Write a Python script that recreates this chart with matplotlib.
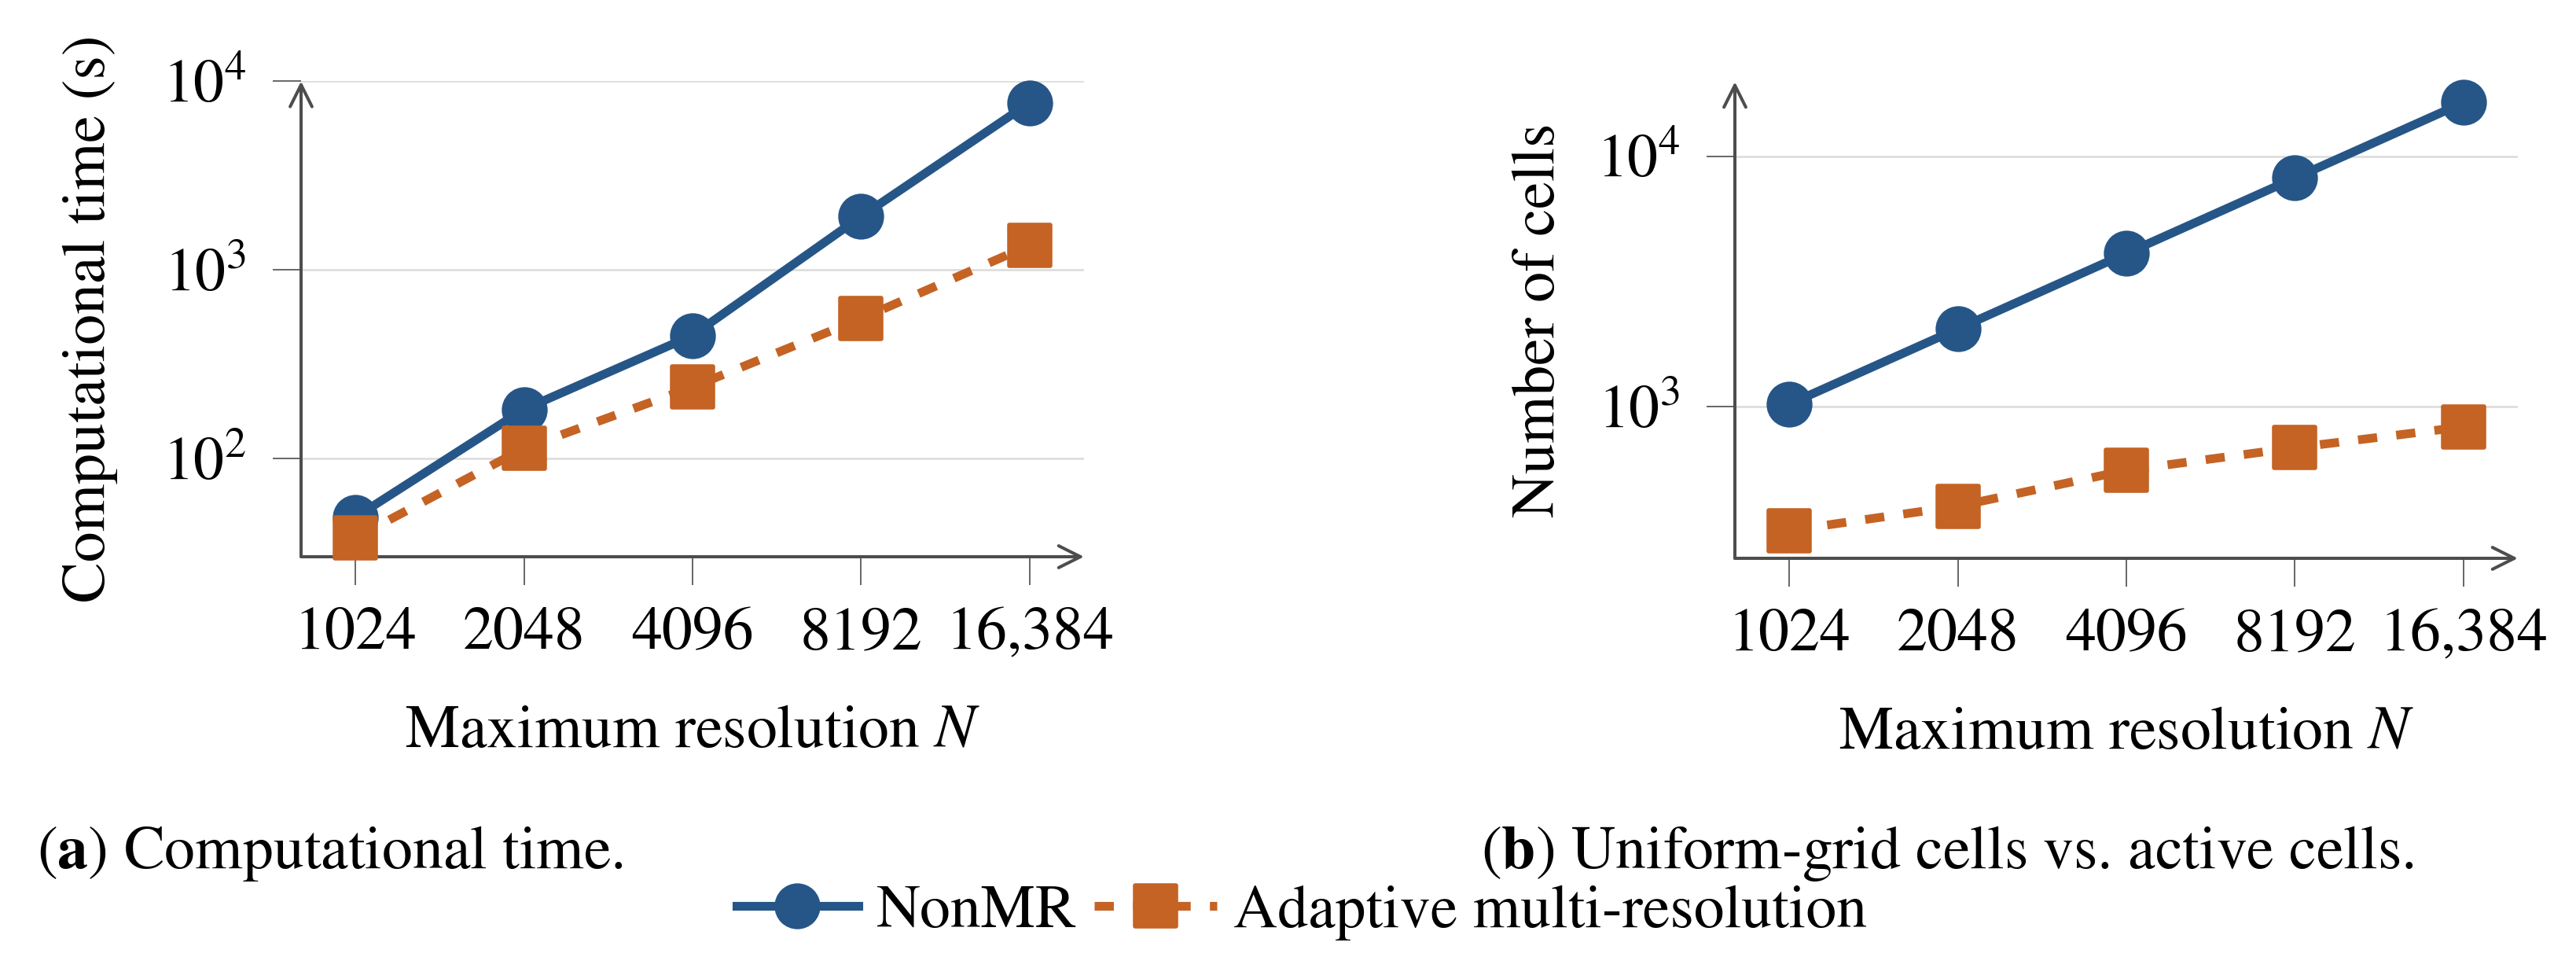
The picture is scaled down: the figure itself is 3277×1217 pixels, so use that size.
import matplotlib
matplotlib.use("Agg")
import matplotlib.pyplot as plt
from matplotlib.markers import MarkerStyle
from matplotlib.ticker import FixedLocator, NullLocator

# ---------------- data ----------------
resolution = [1024, 2048, 4096, 8192, 16384]
resolution_labels = ["1024", "2048", "4096", "8192", "16,384"]

time_nonmr = [48.7, 182, 449, 1918, 7700]
time_adaptive = [37.9, 113, 239, 551, 1350]

cells_nonmr = [1024, 2048, 4096, 8192, 16384]
cells_adaptive = [321, 401, 558, 687, 832]

series_labels = ["NonMR", "Adaptive multi-resolution"]
ylabels = ["Computational time (s)", "Number of cells"]
xlabel = r"Maximum resolution $N$"
captions = [r"($\mathbf{a}$) Computational time.",
            r"($\mathbf{b}$) Uniform-grid cells vs. active cells."]

# ---------------- style ----------------
plt.rcParams["font.family"] = ["STIXGeneral", "DejaVu Serif"]
plt.rcParams["mathtext.fontset"] = "stix"

BLUE = "#265687"
ORANGE = "#C46324"
AXC = "#4d4d4d"
GRID = "#dedede"
FS = 56

W, H = 3277, 1217
fig = plt.figure(figsize=(W / 100, H / 100), dpi=100)

def rect(x0, x1, ytop, ybot):
    return [x0 / W, 1 - ybot / H, (x1 - x0) / W, (ybot - ytop) / H]

ax1 = fig.add_axes(rect(383, 1379, 103.3, 708))
ax2 = fig.add_axes(rect(2207, 3203, 104, 710))

pad = 2 ** 0.3217
panels = [
    (ax1, time_nonmr, time_adaptive, (30.1, 1e4), [1e2, 1e3, 1e4], ylabels[0], -0.251),
    (ax2, cells_nonmr, cells_adaptive, (248.5, 19840), [1e3, 1e4], ylabels[1], -0.231),
]

sq = MarkerStyle("s", joinstyle="round")
handles = None
for ax, y1, y2, ylim, yt, ylab, ylx in panels:
    ax.set_xscale("log", base=2)
    ax.set_yscale("log")
    l1, = ax.plot(resolution, y1, color=BLUE, lw=8, marker="o", ms=42, mew=0,
                  label=series_labels[0], zorder=3, clip_on=False)
    l2, = ax.plot(resolution, y2, color=ORANGE, lw=8, ls=(0, (2.2, 2.2)),
                  dash_capstyle="butt", marker=sq, ms=38, mew=4, mec=ORANGE,
                  mfc=ORANGE, label=series_labels[1], zorder=4, clip_on=False)
    handles = [l1, l2]
    ax.set_xlim(resolution[0] / pad, resolution[-1] * pad)
    ax.set_ylim(*ylim)
    ax.xaxis.set_major_locator(FixedLocator(resolution))
    ax.set_xticklabels(resolution_labels)
    ax.xaxis.set_minor_locator(NullLocator())
    ax.yaxis.set_major_locator(FixedLocator(yt))
    ax.yaxis.set_minor_locator(NullLocator())
    ax.yaxis.grid(True, which="major", color=GRID, lw=2)
    ax.set_axisbelow(True)
    for s in ax.spines.values():
        s.set_visible(False)
    ax.tick_params(axis="both", which="major", direction="out", length=26,
                   width=1.2, color=AXC, labelsize=FS)
    ax.tick_params(axis="x", pad=20)
    ax.tick_params(axis="y", pad=24)
    # axis lines with arrow heads
    for xy in [(1, 0), (0, 1)]:
        ax.annotate("", xy=xy, xytext=(0, 0), xycoords="axes fraction",
                    textcoords="axes fraction",
                    arrowprops=dict(arrowstyle="->", mutation_scale=50, lw=2.9,
                                    color=AXC, shrinkA=0, shrinkB=0),
                    annotation_clip=False, zorder=2)
    ax.set_xlabel(xlabel, fontsize=FS, va="baseline")
    ax.xaxis.set_label_coords(0.5, -0.400)
    ax.set_ylabel(ylab, fontsize=FS, va="baseline")
    ax.yaxis.set_label_coords(ylx, 0.5)

# captions
fig.text(420 / W, 1 - 1104 / H, captions[0], fontsize=FS, ha="center", va="baseline")
fig.text(2477 / W, 1 - 1104 / H, captions[1], fontsize=FS, ha="center", va="baseline")

# shared legend
fig.legend(handles, series_labels, loc="center", bbox_to_anchor=(1656 / W, 1 - 1160 / H),
           ncol=2, frameon=False, fontsize=FS, handlelength=2.0, handletextpad=0.28,
           columnspacing=0.3, borderaxespad=0, borderpad=0)

fig.savefig("out.png", dpi=100)
